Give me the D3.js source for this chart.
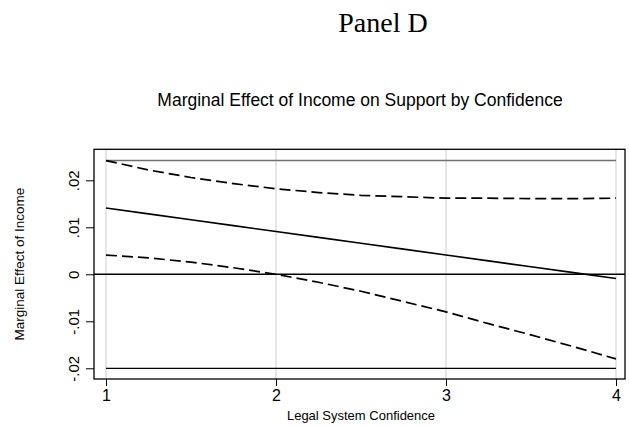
<!DOCTYPE html>
<html>
<head>
<meta charset="utf-8">
<script src="https://cdn.jsdelivr.net/npm/d3@7"></script>
<style>
  html, body { margin: 0; padding: 0; background: #fff; }
  svg { display: block; }
  text { font-family: "Liberation Sans", Arial, Helvetica, sans-serif; fill: #000; }
</style>
</head>
<body>
<svg id="chart" width="629" height="426"></svg>
<script>
// Legal system confidence levels at which the marginal effect is evaluated
const confidence = [1, 1.25, 1.5, 1.75, 2, 2.25, 2.5, 2.75, 3, 3.25, 3.5, 3.75, 4];
// Marginal effect of income and its 95% confidence bounds
const marginalEffect = [0.0141, 0.01285, 0.0116, 0.01035, 0.0091, 0.00785, 0.0066, 0.00535, 0.0041, 0.00285, 0.0016, 0.00035, -0.0009];
const upperBound = [0.0242, 0.0222, 0.0206, 0.0193, 0.0182, 0.0174, 0.0168, 0.0165, 0.0162, 0.0162, 0.0161, 0.0161, 0.0162];
const lowerBound = [0.0041, 0.0035, 0.0026, 0.0014, 0.0000, -0.0017, -0.0036, -0.0058, -0.0080, -0.0105, -0.0129, -0.0154, -0.0180];
// Horizontal reference lines drawn across the evaluated range
const refHigh = 0.0242;
const refLow = -0.0200;
// Axis ticks
const xTicks = [1, 2, 3, 4];
const yTicks = [-0.02, -0.01, 0, 0.01, 0.02];
const yTickLabels = ["-.02", "-.01", "0", ".01", ".02"];

const svg = d3.select("#chart");
const box = { left: 94, right: 625, top: 149.3, bottom: 379 };

const x = d3.scaleLinear().domain([0.9294, 4.0529]).range([box.left, box.right]);
const y = d3.scaleLinear().domain([-0.02228, 0.0266]).range([box.bottom, box.top]);

// Headings
svg.append("text")
  .attr("x", 383).attr("y", 32)
  .attr("text-anchor", "middle")
  .style("font-family", "'Liberation Serif', 'Times New Roman', serif")
  .style("font-size", "28px")
  .text("Panel D");

svg.append("text")
  .attr("x", 360).attr("y", 106)
  .attr("text-anchor", "middle")
  .style("font-size", "17.5px")
  .text("Marginal Effect of Income on Support by Confidence");

// Vertical grid lines
svg.append("g")
  .selectAll("line")
  .data(xTicks)
  .join("line")
  .attr("x1", d => x(d)).attr("x2", d => x(d))
  .attr("y1", box.top).attr("y2", box.bottom)
  .attr("stroke", "#dcdcdc")
  .attr("stroke-width", 1.5);

// Reference lines
svg.append("line")
  .attr("x1", x(confidence[0])).attr("x2", x(confidence[confidence.length - 1]))
  .attr("y1", y(refHigh)).attr("y2", y(refHigh))
  .attr("stroke", "#707070").attr("stroke-width", 1.5);

svg.append("line")
  .attr("x1", x(confidence[0])).attr("x2", x(confidence[confidence.length - 1]))
  .attr("y1", y(refLow)).attr("y2", y(refLow))
  .attr("stroke", "#000").attr("stroke-width", 1.2);

// Zero line
svg.append("line")
  .attr("x1", box.left).attr("x2", box.right)
  .attr("y1", y(0)).attr("y2", y(0))
  .attr("stroke", "#000").attr("stroke-width", 1.4);

const line = d3.line().x(d => x(d[0])).y(d => y(d[1]));
const zip = arr => confidence.map((c, i) => [c, arr[i]]);

svg.append("path")
  .attr("d", line(zip(upperBound)))
  .attr("fill", "none").attr("stroke", "#000")
  .attr("stroke-width", 1.7).attr("stroke-dasharray", "11,5");

svg.append("path")
  .attr("d", line(zip(lowerBound)))
  .attr("fill", "none").attr("stroke", "#000")
  .attr("stroke-width", 1.7).attr("stroke-dasharray", "11,5");

svg.append("path")
  .attr("d", line(zip(marginalEffect)))
  .attr("fill", "none").attr("stroke", "#000")
  .attr("stroke-width", 1.6);

// Plot frame
svg.append("rect")
  .attr("x", box.left).attr("y", box.top)
  .attr("width", box.right - box.left).attr("height", box.bottom - box.top)
  .attr("fill", "none").attr("stroke", "#000").attr("stroke-width", 1.3);

// X axis
const xAxis = svg.append("g")
  .attr("transform", `translate(0,${box.bottom})`)
  .call(d3.axisBottom(x).tickValues(xTicks).tickSize(7).tickPadding(4).tickFormat(d3.format("d")));
xAxis.select(".domain").remove();
xAxis.selectAll(".tick line").attr("stroke", "#000").attr("stroke-width", 1);
xAxis.selectAll(".tick text")
  .style("font-size", "16px")
  .style("font-family", "'Liberation Sans', Arial, sans-serif")
  .attr("fill", "#000");

svg.append("text")
  .attr("x", 361).attr("y", 420)
  .attr("text-anchor", "middle")
  .style("font-size", "13px")
  .text("Legal System Confidence");

// Y axis
const yAxis = svg.append("g")
  .attr("transform", `translate(${box.left},0)`)
  .call(d3.axisLeft(y).tickValues(yTicks).tickSize(8).tickFormat((d, i) => yTickLabels[i]));
yAxis.select(".domain").remove();
yAxis.selectAll(".tick line").attr("stroke", "#000").attr("stroke-width", 1);
yAxis.selectAll(".tick text")
  .attr("x", null).attr("dy", null)
  .attr("text-anchor", "middle")
  .attr("transform", "translate(-15,0) rotate(-90)")
  .style("font-size", "15px")
  .style("font-family", "'Liberation Sans', Arial, sans-serif")
  .attr("fill", "#000");

svg.append("text")
  .attr("transform", `translate(24,${(box.top + box.bottom) / 2}) rotate(-90)`)
  .attr("text-anchor", "middle")
  .style("font-size", "13.5px")
  .text("Marginal Effect of Income");
</script>
</body>
</html>
